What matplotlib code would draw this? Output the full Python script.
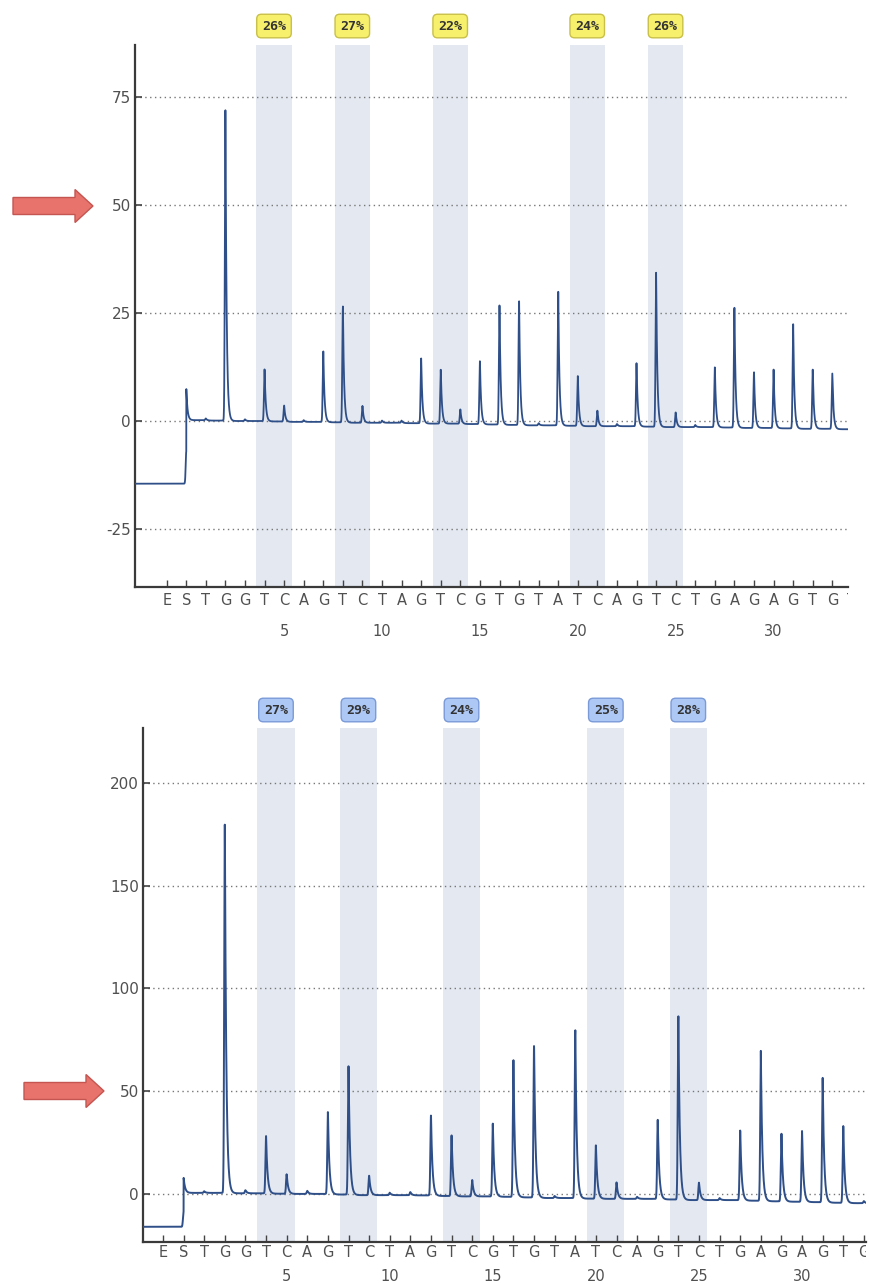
import numpy as np
import matplotlib
matplotlib.use('Agg')
import matplotlib.pyplot as plt
from matplotlib.patches import Polygon, Rectangle

plt.rcParams['axes.unicode_minus'] = False

# dispensation order (E, S, then dispensations 1..33)
letters = ['E', 'S'] + list('TGGTCAGTCTAGTCGTGTATCAGTCTGAGAGTG')
positions = list(range(-1, len(letters) - 1))
number_ticks = [5, 10, 15, 20, 25, 30]

# shaded C/T positions (the T dispensation of each T/C pair)
cpg_sites = [4, 8, 13, 20, 24]
pct_top = ['26%', '27%', '22%', '24%', '26%']
pct_bottom = ['27%', '29%', '24%', '25%', '28%']

# peak heights above local baseline, index 0 = S, 1..33 = dispensations
top_heights = [7.5, 0.4, 72, 0.4, 12, 3.7, 0.4, 16.3, 26.8, 3.9, 0.5, 0.5, 15, 12.5,
               3.3, 14.6, 27.7, 28.8, 0.5, 30.9, 11.5, 3.6, 0.5, 14.6, 35.7, 3.4,
               0.5, 13.9, 27.9, 12.9, 13.5, 24.1, 13.7, 12.8]
top_base = [0.2, 0.1, 0.0, 0.0, -0.1, -0.2, -0.2, -0.3, -0.4, -0.4, -0.4, -0.5,
            -0.6, -0.6, -0.7, -0.8, -0.9, -1.0, -1.0, -1.1, -1.2, -1.2, -1.2, -1.3,
            -1.4, -1.4, -1.4, -1.5, -1.6, -1.6, -1.7, -1.8, -1.8, -1.9]
top_pre = -14.5

bottom_heights = [7.5, 0.8, 180, 1.5, 28, 9.5, 1.5, 40, 62.5, 9.5, 1.2, 1.5, 39, 29.5,
                  8, 35.5, 66.5, 74, 1, 82, 26, 8, 1, 38.5, 89.5, 8.5,
                  1, 34, 73, 33, 34.5, 60.5, 37.5, 1]
bottom_base = [0.5, 0.5, 0.3, 0.3, 0.1, 0.0, 0.0, -0.3, -0.6, -0.6, -0.6, -0.7,
               -1.0, -1.2, -1.2, -1.4, -1.7, -2.0, -2.0, -2.3, -2.4, -2.4, -2.4, -2.7,
               -3.0, -3.0, -3.0, -3.3, -3.6, -3.8, -4.0, -4.3, -4.5, -4.6]
bottom_pre = -16.0

W, H = 869, 1284
LINE = '#2f4f88'
BAND = '#e3e8f1'
GREY = '#505050'


def build_trace(t, pre, heights, base, tau):
    """pyrogram-like trace: sharp rise, exponential decay, drifting baseline"""
    y = np.full_like(t, pre)
    prev = pre
    for i, (h, b) in enumerate(zip(heights, base)):
        d = t - i
        dpos = np.clip(d, 0, None)
        if i == 0:
            step = (d >= 0).astype(float)
        else:
            step = np.where(d >= 0, 1 - np.exp(-dpos / (tau * 2)), 0.0)
        y += (b - prev) * step
        prev = b
        y += h * np.where(d < 0, np.exp(-0.5 * (d / 0.03) ** 2), np.exp(-dpos / tau))
    return y


def draw_panel(ax, xlim, ylim, yticks, heights, base, pre, tau, pcts, fc, ec,
               letter_off, number_off, extra_letter=None, lw=1.3):
    ax.set_xlim(*xlim)
    ax.set_ylim(*ylim)
    for p in cpg_sites:
        ax.axvspan(p - 0.42, p + 1.38, color=BAND, zorder=0, lw=0)
    ax.set_yticks(yticks)
    ax.yaxis.grid(True, linestyle=(0, (1, 2.5)), color='#777777', lw=1, zorder=1)
    ax.set_axisbelow(True)

    t = np.linspace(xlim[0], xlim[1], 9000)
    ax.plot(t, build_trace(t, pre, heights, base, tau), color=LINE, lw=lw, zorder=3)

    for s in ['top', 'right']:
        ax.spines[s].set_visible(False)
    for s in ['left', 'bottom']:
        ax.spines[s].set_color('#3a3a3a')
        ax.spines[s].set_linewidth(1.6)

    ticks = [p for p in positions if xlim[0] <= p <= xlim[1]]
    ax.set_xticks(ticks)
    ax.set_xticklabels([])
    ax.tick_params(axis='x', direction='in', length=5, width=1, color='#444444')
    ax.tick_params(axis='y', direction='in', length=5, width=1.2, color='#444444',
                   labelsize=11, labelcolor=GREY, pad=3)

    # letters are clipped at the right edge of the axes, like the cut-off last one
    clip = Rectangle((0, -1), 1, 2, transform=ax.transAxes, visible=False)
    ax.add_patch(clip)
    labs = list(zip(positions, letters))
    if extra_letter is not None:
        labs.append(extra_letter)
    for p, l in labs:
        txt = ax.annotate(l, xy=(p, 0), xycoords=('data', 'axes fraction'),
                          xytext=(0, -letter_off), textcoords='offset points',
                          ha='center', va='center', fontsize=10.5, color=GREY,
                          annotation_clip=False)
        txt.set_clip_path(clip)
        txt.set_clip_on(True)
    for n in number_ticks:
        ax.annotate(str(n), xy=(n, 0), xycoords=('data', 'axes fraction'),
                    xytext=(0, -number_off), textcoords='offset points',
                    ha='center', va='center', fontsize=10.5, color=GREY)

    for p, lab in zip(cpg_sites, pcts):
        ax.annotate(lab, xy=(p + 0.48, 1.035), xycoords=('data', 'axes fraction'),
                    ha='center', va='center', fontsize=9.5, fontweight='bold',
                    family='DejaVu Sans Mono', color='#333333',
                    bbox=dict(boxstyle='round,pad=0.4,rounding_size=0.35',
                              fc=fc, ec=ec, lw=1))


def add_arrow(fig, x0, yc):
    pts = [(x0, yc - 8.5), (x0 + 62, yc - 8.5), (x0 + 62, yc - 16.5), (x0 + 80, yc),
           (x0 + 62, yc + 16.5), (x0 + 62, yc + 8.5), (x0, yc + 8.5)]
    pts = [(x / W, 1 - y / H) for x, y in pts]
    fig.patches.append(Polygon(pts, closed=True, transform=fig.transFigure,
                               fc='#e8736c', ec='#c45550', lw=1))


fig = plt.figure(figsize=(W / 100, H / 100), dpi=100)

ax1 = fig.add_axes([135 / W, 1 - 587 / H, 713 / W, 542 / H])
draw_panel(ax1, (-2.62, 33.8), (-38.4, 87.0), [-25, 0, 25, 50, 75],
           top_heights, top_base, top_pre, 0.06, pct_top, '#f6f06c', '#c8c04a',
           10, 32, extra_letter=(34, 'T'))

ax2 = fig.add_axes([143 / W, 1 - 1242 / H, 723 / W, 514 / H])
draw_panel(ax2, (-1.97, 33.1), (-23.4, 226.8), [0, 50, 100, 150, 200],
           bottom_heights, bottom_base, bottom_pre, 0.07, pct_bottom, '#adc8f5', '#7a9ad8',
           7.5, 25, lw=1.4)

add_arrow(fig, 13, 206)
add_arrow(fig, 24, 1091)

fig.savefig('out.png', dpi=100)
